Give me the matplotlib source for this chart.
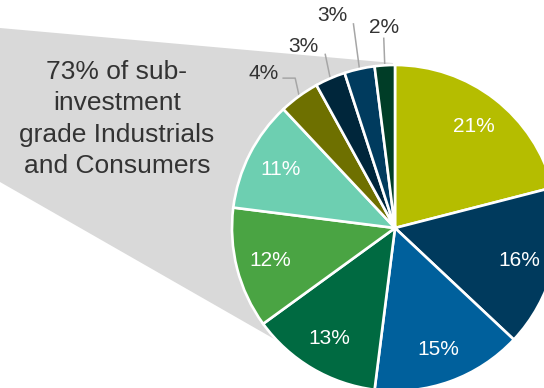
import matplotlib
matplotlib.use("Agg")
import matplotlib.pyplot as plt
import numpy as np
from matplotlib.patches import Polygon

# ---- data ----
values = [21, 16, 15, 13, 12, 11, 4, 3, 3, 2]
labels = ["21%", "16%", "15%", "13%", "12%", "11%", "4%", "3%", "3%", "2%"]
colors = ["#B5BD00", "#003A5D", "#00609C", "#006A41", "#4AA443",
          "#6DCFB1", "#6E7000", "#00263B", "#003B5E", "#003D27"]
callout_text = "73% of sub-\ninvestment\ngrade Industrials\nand Consumers"

# ---- layout / style ----
W, H = 544, 388
cx, cy, R = 395, 388 - 228, 163
inside = [True] * 6 + [False] * 4
# outside label layout: (knee dx, knee dy, end dx, end dy, text dx, text dy) in px, y down
outside_layout = [
    (-4, -18, -16, -18, -36, -23),
    (-5, -24, -5, -24, -27, -32),
    (-6, -45, -6, -45, -27, -53),
    (-1, -27, -1, -27, -1, -38),
]

plt.rcParams['font.family'] = ['Liberation Sans', 'DejaVu Sans']
fig = plt.figure(figsize=(W / 100, H / 100), dpi=100)
ax = fig.add_axes([0, 0, 1, 1])

# grey callout shape behind pie
poly = Polygon([(0, H - 28), (393, H - 63), (cx, cy), (276, H - 340), (0, H - 182)],
               closed=True, facecolor="#D9D9D9", edgecolor="none", zorder=0)
ax.add_patch(poly)

wedges, _ = ax.pie(values, colors=colors, startangle=90, counterclock=False,
                   center=(cx, cy), radius=R, frame=True,
                   wedgeprops=dict(edgecolor="white", linewidth=1.9))
for w in wedges:
    w.set_zorder(2)

oi = 0
for w, lab, ins in zip(wedges, labels, inside):
    mid = np.deg2rad((w.theta1 + w.theta2) / 2)
    if ins:
        d = 0.79 * R
        ax.text(cx + d * np.cos(mid), cy + d * np.sin(mid), lab, color="white",
                fontsize=15, ha="center", va="center", zorder=3)
    else:
        ax_, ay_ = cx + R * np.cos(mid), cy + R * np.sin(mid)
        kx, ky, ex, ey, tx, ty = outside_layout[oi]
        oi += 1
        ax.plot([ax_, ax_ + kx, ax_ + ex], [ay_, ay_ - ky, ay_ - ey],
                color="#A6A6A6", lw=1.1, zorder=1)
        ax.text(ax_ + tx, ay_ - ty, lab, color="#333333", fontsize=15,
                ha="center", va="center", zorder=3)

ax.text(117, H - 119, callout_text, color="#333333", fontsize=19,
        ha="center", va="center", linespacing=1.38, zorder=3)

ax.set_xlim(0, W)
ax.set_ylim(0, H)
ax.set_aspect("equal")
ax.axis("off")
fig.savefig("out.png", dpi=100)
